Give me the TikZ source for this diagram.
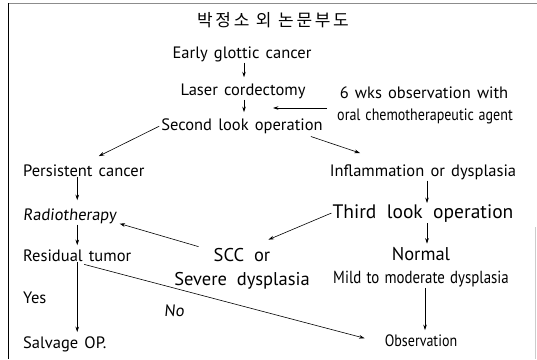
\documentclass[tikz,border=0pt]{standalone}
\usepackage{fontspec}
\setmainfont[WordSpace=1.4]{PT Sans}
\newfontfamily\krfont[LetterSpace=16]{Noto Sans CJK KR}
\newfontfamily\narrowfont[FakeStretch=0.85,WordSpace=1.3]{PT Sans}
\newfontfamily\slantfont[FakeSlant=0.1,WordSpace=1.4]{PT Sans}
\newfontfamily\bigfont[WordSpace=2]{PT Sans}
\usetikzlibrary{arrows.meta}
\tikzset{
  txt/.style={inner sep=1pt,anchor=base,font=\fontsize{16.5}{18}\selectfont},
  lefttxt/.style={txt,anchor=base west},
  nartxt/.style={txt,font=\narrowfont\fontsize{16.5}{18}\selectfont},
  slanttxt/.style={lefttxt,font=\slantfont\fontsize{16.5}{18}\selectfont},
  bigtxt/.style={txt,font=\bigfont\fontsize{18.5}{20}\selectfont},
  arr/.style={->,line width=0.6pt}
}
\begin{document}
\begin{tikzpicture}[>={Stealth[length=5.5pt,width=3.6pt]},x=1pt,y=-1pt]
    \useasboundingbox (0,0) rectangle (537,359);
    \draw[black!45,line width=0.8pt] (8.5,3)--(537,3);
    \draw[line width=0.9pt] (8.5,3)--(8.5,359);
    \draw[black!20,line width=0.5pt] (535,227)--(535,359);
    % nodes
    \node[anchor=base,inner sep=1pt,font=\krfont\fontsize{17}{19}\selectfont] (title) at (273,26) {박정소 외 논문부도};
    \node[txt] (early) at (242,58) {Early glottic cancer};
    \node[txt] (laser) at (243,95) {Laser cordectomy};
    \node[txt] (second) at (242,130) {Second look operation};
    \node[txt] (wks) at (424,98) {6 wks observation with};
    \node[nartxt] (oral) at (425,120) {oral chemotherapeutic agent};
    \node[lefttxt] (persist) at (22,176) {Persistent cancer};
    \node[txt] (inflam) at (423,176) {Inflammation or dysplasia};
    \node[slanttxt] (radio) at (22,220) {Radiotherapy};
    \node[bigtxt,font=\bigfont\fontsize{19.5}{21}\selectfont] (third) at (423,218) {Third look operation};
    \node[lefttxt] (resid) at (22,261) {Residual tumor};
    \node[bigtxt] (scc) at (242,261) {SCC or};
    \node[bigtxt] (severe) at (242,285) {Severe dysplasia};
    \node[bigtxt] (normal) at (421,260) {Normal};
    \node[nartxt,font=\narrowfont\fontsize{17.5}{19}\selectfont] (mild) at (421,283) {Mild to moderate dysplasia};
    \node[lefttxt] (yes) at (22,303) {Yes};
    \node[slanttxt] (no) at (163,316) {No};
    \node[lefttxt] (salvage) at (22,348) {Salvage OP.};
    \node[nartxt] (observ) at (421,346) {Observation};
    \coordinate (fb) at (273,108);
    % connectors
    \draw[arr,shorten >=5pt] ([xshift=2pt]early.south) -- ([xshift=2pt]early.south |- laser.north);
    \draw[arr,shorten >=5pt] ([xshift=1pt]laser.south) -- ([xshift=1pt]laser.south |- second.north);
    \draw[arr,shorten <=9pt] (oral.west |- fb) -- (fb);
    \draw[arr,shorten <=1pt] (second.west) -- ([shift={(15pt,7pt)}]persist.north);
    \draw[arr] ([shift={(-13pt,-2pt)}]second.south east) -- ([shift={(-63pt,10pt)}]inflam.north);
    \draw[arr,shorten >=7pt] (persist.south -| resid) -- (radio.north -| resid);
    \draw[arr] ([xshift=4pt]inflam.south) -- ([xshift=4pt]inflam.south |- third.north);
    \draw[arr,shorten >=3pt] (radio.south -| resid) -- (resid.north);
    \draw[arr,shorten >=2pt] ([xshift=4pt]third.south) -- ([xshift=4pt]third.south |- normal.north);
    \draw[arr] (third.west) -- ([shift={(-3pt,7pt)}]scc.north east);
    \draw[arr] ([xshift=-14pt]scc.north west) -- ([shift={(2pt,1pt)}]radio.south east);
    \draw[arr,shorten >=3pt] (resid.south) -- (salvage.north -| resid);
    \draw[arr] ([shift={(7pt,-2pt)}]resid.south) -- ([shift={(-19pt,2pt)}]observ.west);
    \draw[arr,shorten >=3pt] ([xshift=4pt]mild.south) -- ([xshift=4pt]mild.south |- observ.north);
\end{tikzpicture}
\end{document}
